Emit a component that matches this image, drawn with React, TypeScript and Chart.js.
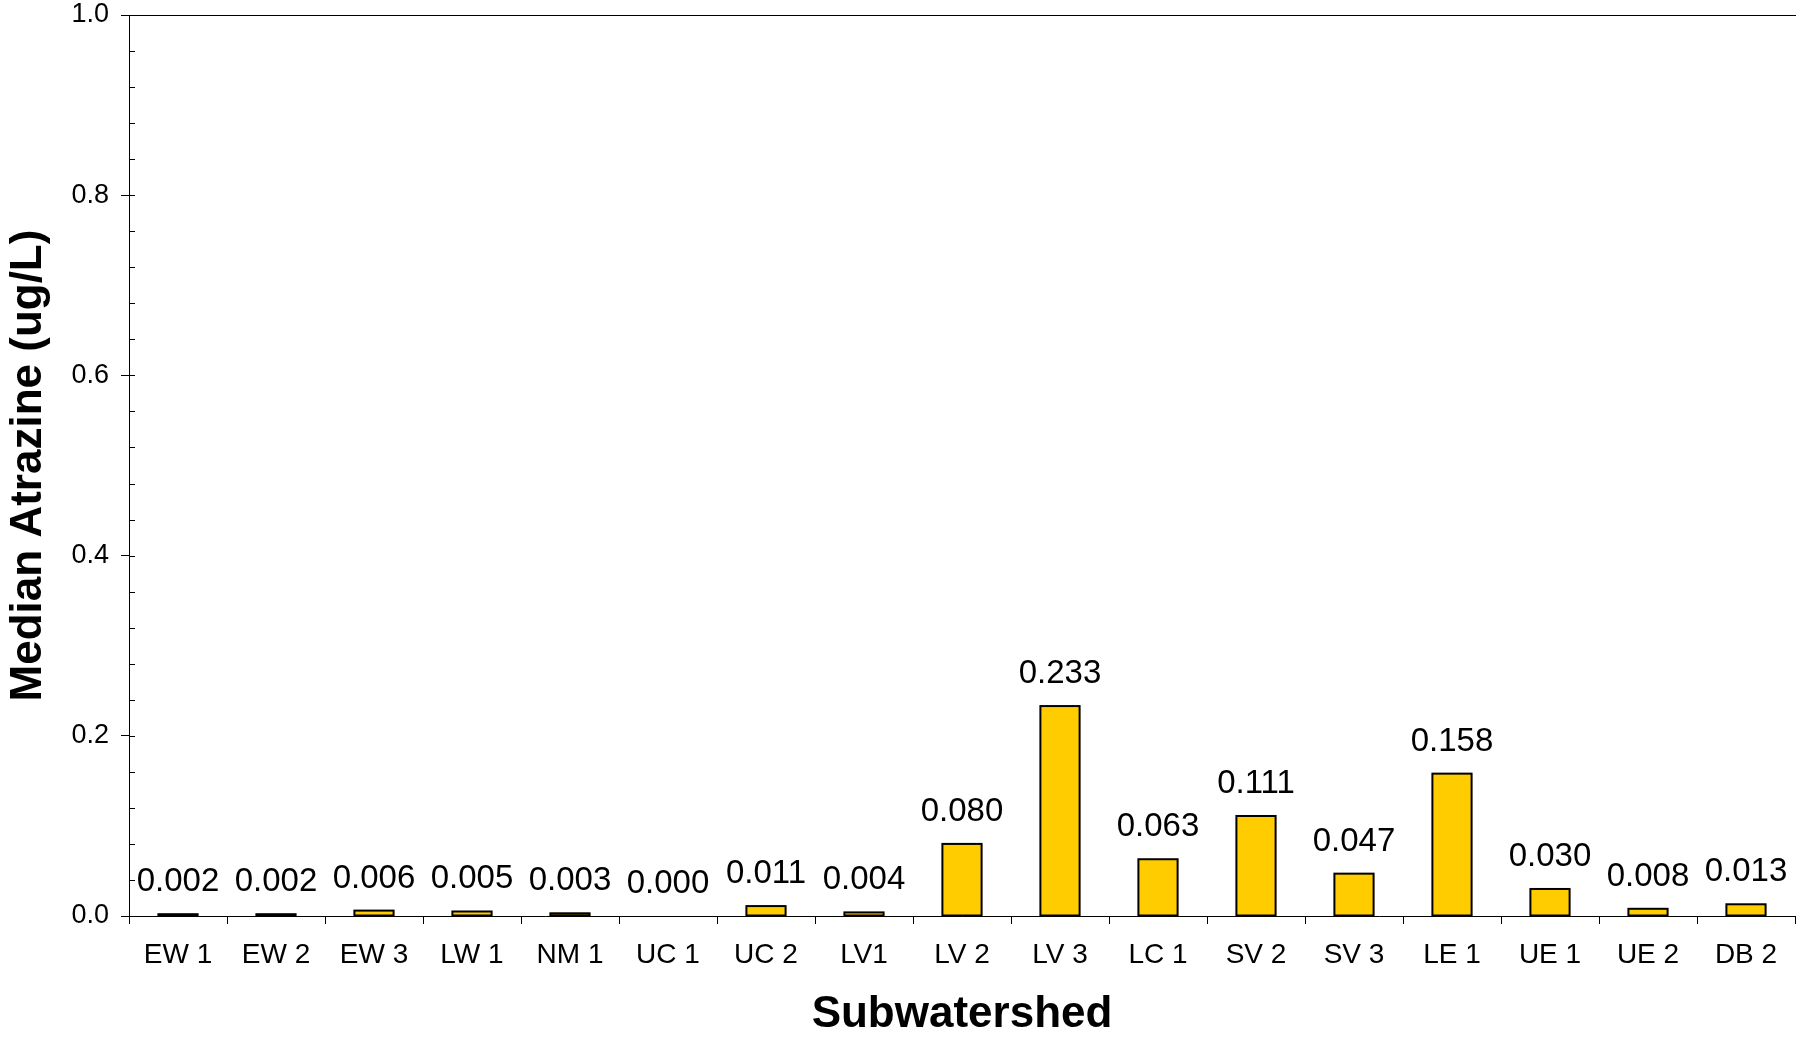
import React, { useEffect, useRef } from "react";
import { Chart, registerables } from "chart.js";

Chart.register(...registerables);

const categories = ["EW 1", "EW 2", "EW 3", "LW 1", "NM 1", "UC 1", "UC 2", "LV1", "LV 2", "LV 3", "LC 1", "SV 2", "SV 3", "LE 1", "UE 1", "UE 2", "DB 2"];
const values = [0.002, 0.002, 0.006, 0.005, 0.003, 0.0, 0.011, 0.004, 0.08, 0.233, 0.063, 0.111, 0.047, 0.158, 0.03, 0.008, 0.013];
const yMin = 0;
const yMax = 1.0;
const yMajorStep = 0.2;
const yMinorStep = 0.04;
const yTitle = "Median Atrazine (ug/L)";
const xTitle = "Subwatershed";

const FONT = 'Arial, "Liberation Sans", sans-serif';

const decorPlugin = {
  id: "decor",
  afterDatasetsDraw(chart: any) {
    const ctx = chart.ctx;
    const { left, right, top } = chart.chartArea;
    const y = chart.scales.y;
    ctx.save();
    ctx.strokeStyle = "#000";
    ctx.lineWidth = 1;
    ctx.beginPath();
    ctx.moveTo(left, Math.round(top) + 0.5);
    ctx.lineTo(right + 2, Math.round(top) + 0.5);
    const n = Math.round((y.max - y.min) / yMinorStep);
    for (let i = 0; i <= n; i++) {
      const v = y.min + i * yMinorStep;
      const py = Math.round(y.getPixelForValue(v)) + 0.5;
      ctx.moveTo(left, py);
      ctx.lineTo(left + 6, py);
    }
    ctx.stroke();
    const meta = chart.getDatasetMeta(0);
    // bar outlines centred on the bar edges (Excel style)
    ctx.lineWidth = 2;
    meta.data.forEach((bar: any, i: number) => {
      if (values[i] <= 0) return;
      const w = bar.width;
      ctx.strokeRect(bar.x - w / 2, bar.y, w, bar.base - bar.y);
    });
    ctx.font = "33px " + FONT;
    ctx.textAlign = "center";
    ctx.textBaseline = "alphabetic";
    ctx.fillStyle = "#000";
    meta.data.forEach((bar: any, i: number) => {
      ctx.fillText(values[i].toFixed(3), bar.x, bar.y - 23);
    });
    ctx.restore();
  },
};

export default function App() {
  const ref = useRef<HTMLCanvasElement>(null);
  useEffect(() => {
    if (!ref.current) return;
    const chart = new Chart(ref.current, {
      type: "bar",
      data: {
        labels: categories,
        datasets: [
          {
            data: values,
            backgroundColor: "#FFCC00",
            borderColor: "#000",
            borderWidth: 0,
            categoryPercentage: 1,
            barPercentage: 0.4,
          },
        ],
      },
      options: {
        responsive: false,
        animation: false,
        layout: { padding: { top: 15, right: 1, left: 0, bottom: 0 } },
        plugins: { legend: { display: false }, tooltip: { enabled: false } },
        scales: {
          x: {
            offset: true,
            grid: { drawOnChartArea: false, drawTicks: true, tickLength: 8, color: "#000", offset: true },
            border: { display: true, color: "#000", width: 1 },
            ticks: { color: "#000", font: { family: FONT, size: 28 }, padding: 14, maxRotation: 0, autoSkip: false },
            title: { display: true, text: xTitle, color: "#000", font: { family: FONT, size: 44, weight: "bold", lineHeight: 1 }, padding: { top: 0, bottom: 2 } },
            afterFit: (s: any) => { s.height = 1039 - 916; s.paddingLeft = 0; s.paddingRight = 0; },
          },
          y: {
            min: yMin,
            max: yMax,
            grid: { drawOnChartArea: false, drawTicks: true, tickLength: 8, color: "#000" },
            border: { display: true, color: "#000", width: 1 },
            ticks: { stepSize: yMajorStep, color: "#000", font: { family: FONT, size: 27 }, padding: 12, callback: (v: any) => Number(v).toFixed(1) },
            title: { display: true, text: yTitle, color: "#000", font: { family: FONT, size: 44, weight: "bold", lineHeight: 1 }, padding: { top: 7, bottom: 0 } },
            afterFit: (s: any) => { s.width = 129; s.paddingTop = 0; s.paddingBottom = 0; },
          },
        },
      },
      plugins: [decorPlugin],
    } as any);
    return () => chart.destroy();
  }, []);
  return (
    <div style={{ position: "absolute", left: 0, top: 0, width: 1796, height: 1039, background: "#fff" }}>
      <canvas ref={ref} width={1796} height={1039} />
    </div>
  );
}
